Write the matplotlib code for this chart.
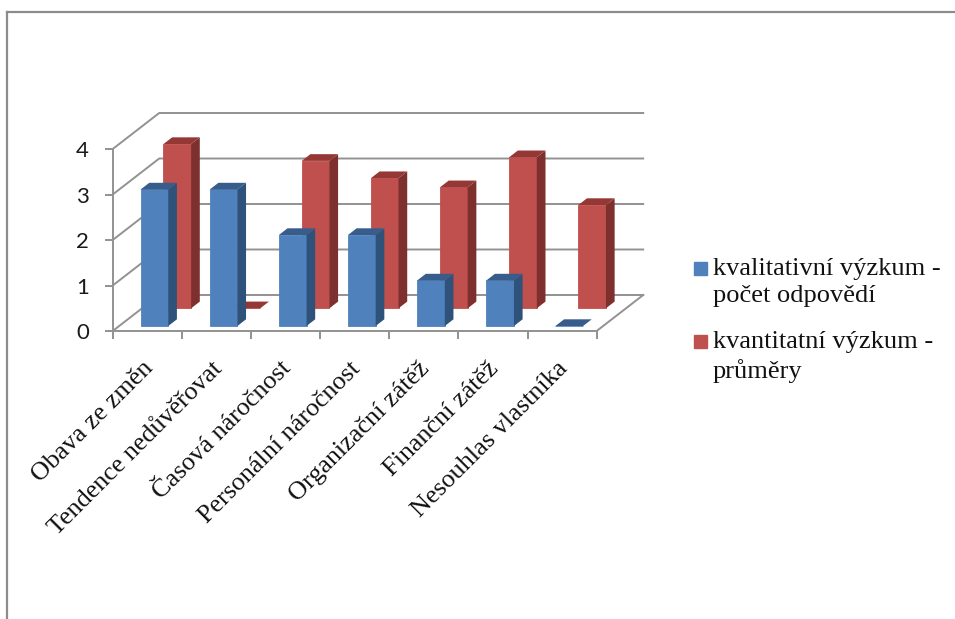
import matplotlib
matplotlib.use("Agg")
import matplotlib.pyplot as plt
from matplotlib.patches import Rectangle

categories = ["Obava ze změn", "Tendence nedůvěřovat", "Časová náročnost", "Personální náročnost",
              "Organizační zátěž", "Finanční zátěž", "Nesouhlas vlastníka"]
kvalitativni = [3, 3, 2, 2, 1, 1, 0]
kvantitativni = [3.61, 0, 3.24, 2.86, 2.66, 3.32, 2.27]
y_ticks = [0, 1, 2, 3, 4]
legend_labels = ["kvalitativní výzkum -\npočet odpovědí", "kvantitatní výzkum -\nprůměry"]
legend_colors = ["#4F81BD", "#C0504D"]

W, H = 955, 619
# shear of the floor depth, in category / value units
DX = 46.5 / 69.1
DY = 36 / 45.5
GRID = "#929292"

def px_rect(left, right, top, bottom):
    return [left / W, 1 - bottom / H, (right - left) / W, (bottom - top) / H]

def draw_bars(ax, values, d0, d1, front, side, top):
    for i, v in enumerate(values):
        x0 = i + 0.31 + d0 * DX
        x1 = x0 + 0.4
        y0 = d0 * DY
        sx = (d1 - d0) * DX
        sy = (d1 - d0) * DY
        ax.bar(x0, v, 0.4, bottom=y0, align="edge", color=front, linewidth=0.6, edgecolor=front, clip_on=False)
        ax.fill([x1, x1 + sx, x1 + sx, x1], [y0, y0 + sy, y0 + sy + v, y0 + v], color=side, lw=0, clip_on=False)
        ax.fill([x0, x0 + sx, x1 + sx, x1], [y0 + v, y0 + v + sy, y0 + v + sy, y0 + v], color=top, lw=0, clip_on=False)

fig = plt.figure(figsize=(W / 100, H / 100), dpi=100)

# grey frame of the pasted chart, only top and left are visible
frame = fig.add_axes(px_rect(7, W + 5, 12, H + 5))
frame.set_xticks([])
frame.set_yticks([])
frame.spines["right"].set_visible(False)
frame.spines["bottom"].set_visible(False)
frame.spines["top"].set_color("#8c8c8c")
frame.spines["left"].set_color("#8c8c8c")
frame.spines["top"].set_linewidth(1.6)
frame.spines["left"].set_linewidth(1.6)

ax = fig.add_axes(px_rect(112.7, 643.2, 113, 331))
ax.patch.set_alpha(0)
ax.set_xlim(0, len(categories) + DX)
ax.set_ylim(0, y_ticks[-1] + DY)

# walls
for v in y_ticks:
    ax.plot([0, DX, len(categories) + DX], [v, v + DY, v + DY], color=GRID, lw=1.4, clip_on=False, zorder=1)
ax.plot([len(categories), len(categories) + DX], [0, DY], color=GRID, lw=1.4, clip_on=False, zorder=1)

draw_bars(ax, kvantitativni, 0.63, 0.817, "#C0504D", "#7D302E", "#953735")
draw_bars(ax, kvalitativni, 0.139, 0.325, "#4F81BD", "#2F527A", "#385D8A")

for s in ["top", "right"]:
    ax.spines[s].set_visible(False)
ax.spines["left"].set_bounds(0, y_ticks[-1])
ax.spines["bottom"].set_bounds(0, len(categories))
ax.spines["left"].set_color(GRID)
ax.spines["bottom"].set_color(GRID)
ax.spines["left"].set_linewidth(1.4)
ax.spines["bottom"].set_linewidth(1.4)

ax.set_yticks(y_ticks)
ax.set_yticklabels([str(v) for v in y_ticks], family="Lato", fontsize=16, color="#1a1a1a")
ax.tick_params(axis="y", length=6, width=1.4, color=GRID, pad=11)

ax.set_xticks(range(len(categories) + 1))
ax.set_xticklabels([])
ax.tick_params(axis="x", which="major", length=5.5, width=1.4, color=GRID)
ax.set_xticks([i + 0.42 for i in range(len(categories))], minor=True)
ax.set_xticklabels(categories, minor=True, rotation=45, ha="right", va="top", rotation_mode="anchor",
                   family="Liberation Serif", fontsize=18.8, color="#111111")
ax.tick_params(axis="x", which="minor", length=0, pad=19)

# legend placed by hand, the square sits on the first line of each entry
for label, color, top_px in zip(legend_labels, legend_colors, [262, 335]):
    fig.add_artist(Rectangle((694 / W, 1 - (top_px + 13) / H), 13 / W, 13 / H, color=color,
                             transform=fig.transFigure))
    fig.text(713 / W, 1 - (top_px - 4) / H, label, ha="left", va="top", family="Liberation Serif",
             fontsize=19, color="#111111", linespacing=1.32)

fig.savefig("out.png", dpi=100)
